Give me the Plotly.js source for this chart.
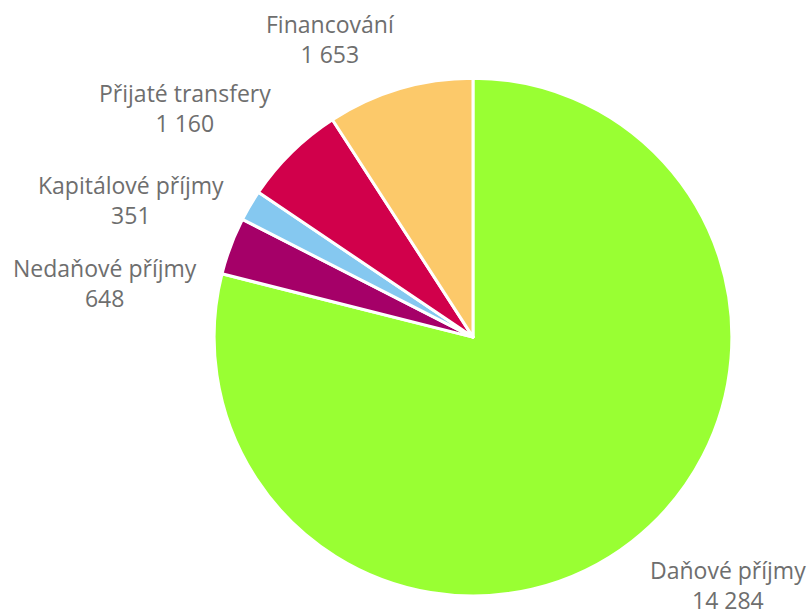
<!DOCTYPE html>
<html>
<head>
<meta charset="utf-8">
<script src="https://cdn.plot.ly/plotly-3.0.1.min.js"></script>
<style>html,body{margin:0;padding:0;background:#fff;}#chart{width:812px;height:616px;}</style>
</head>
<body>
<div id="chart"></div>
<script>
const categories = ["Daňové příjmy", "Nedaňové příjmy", "Kapitálové příjmy", "Přijaté transfery", "Financování"];
const values = [14284, 648, 351, 1160, 1653];
const colors = ["#99FF33", "#A50068", "#85C8F0", "#D1004B", "#FCC96A"];

// label anchor positions (paper coordinates), layout only
const labelX = [0.8966, 0.1293, 0.1613, 0.2278, 0.4076];
const labelY = [0.0505, 0.5406, 0.6753, 0.8239, 0.9359];

function fmt(v) {
  return String(v).replace(/\B(?=(\d{3})+(?!\d))/g, " ");
}

const trace = {
  type: "pie",
  labels: categories,
  values: values,
  sort: false,
  direction: "clockwise",
  rotation: 0,
  marker: {colors: colors, line: {color: "#FFFFFF", width: 3}},
  textinfo: "none",
  automargin: false,
  showlegend: false,
  hoverinfo: "label+value",
  domain: {x: [0.2635, 0.9015], y: [0.0325, 0.873]}
};

const annotations = categories.map((c, i) => ({
  xref: "paper", yref: "paper",
  x: labelX[i], y: labelY[i],
  xanchor: "center", yanchor: "middle",
  text: c + "<br>" + fmt(values[i]),
  showarrow: false,
  align: "center",
  font: {family: "'Open Sans', sans-serif", size: 23, color: "#6E6E6E"}
}));

const layout = {
  width: 812, height: 616,
  margin: {l: 0, r: 0, t: 0, b: 0},
  paper_bgcolor: "#FFFFFF",
  separators: ", ",
  showlegend: false,
  annotations: annotations
};

Plotly.newPlot("chart", [trace], layout, {displayModeBar: false, staticPlot: true});
</script>
</body>
</html>
